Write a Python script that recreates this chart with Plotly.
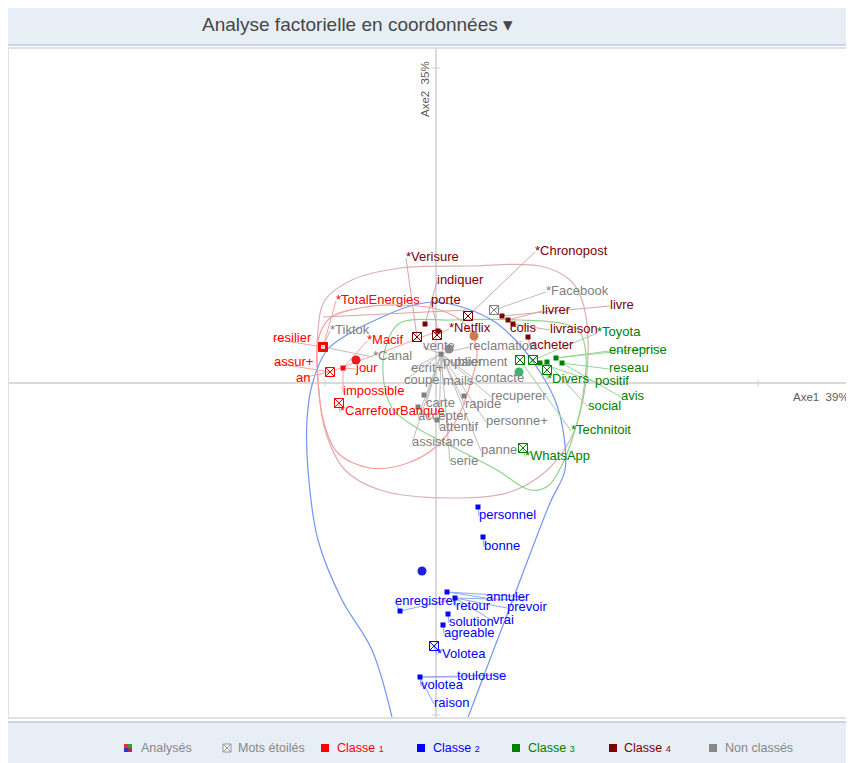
import plotly.graph_objects as go

# ------------------------------------------------------------------
# Data : coordinates on the factorial plane (Axe1, Axe2)
# ------------------------------------------------------------------
TITLE = "Analyse factorielle en coordonnées"
AXE1_LABEL = "Axe1  39%"
AXE2_LABEL = "Axe2  35%"

# ---- Classe 1 ----
C1_WORDS = ["resilier", "assur+", "an", "jour", "impossible", "*TotalEnergies", "*Macif", "*CarrefourBanque"]
C1_PT_X = [-1.13, -1.06, -1.06, -0.93, -0.93, -1.13, -0.93, -0.97]
C1_PT_Y = [0.36, 0.11, 0.11, 0.15, 0.15, 0.36, 0.15, -0.20]
C1_LBL_X = [-1.63, -1.62, -1.40, -0.80, -0.93, -1.00, -0.69, -0.96]
C1_LBL_Y = [0.44, 0.20, 0.04, 0.14, -0.09, 0.82, 0.42, -0.29]
C1_SQ_X, C1_SQ_Y = [-0.93], [0.15]
C1_FILLBOX_X, C1_FILLBOX_Y = [-1.13], [0.36]
C1_BOX_X, C1_BOX_Y = [-1.06, -0.97], [0.11, -0.20]
C1_CENTER_X, C1_CENTER_Y = [-0.80], [0.23]
C1_LINK_X, C1_LINK_Y = [-1.06, 0.02], [0.11, 0.52]
C1_HULL_X = [-1.18, -1.06, -0.76, -0.36, 0.04, 0.30, 0.41, 0.34, 0.22, 0.02, -0.28, -0.66, -0.98, -1.12, -1.18, -1.18]
C1_HULL_Y = [0.43, 0.65, 0.75, 0.78, 0.73, 0.58, 0.31, -0.02, -0.34, -0.62, -0.80, -0.85, -0.70, -0.40, 0.03, 0.43]

# ---- Classe 2 ----
C2_WORDS = ["personnel", "bonne", "annuler", "prevoir", "enregistrer", "retour", "solution", "vrai",
            "agreable", "*Volotea", "toulouse", "volotea", "raison"]
C2_PT_X = [0.42, 0.47, 0.11, 0.19, -0.36, 0.19, 0.12, 0.19, 0.07, -0.02, -0.16, -0.16, -0.16]
C2_PT_Y = [-1.24, -1.54, -2.09, -2.15, -2.28, -2.15, -2.31, -2.15, -2.42, -2.63, -2.94, -2.94, -2.94]
C2_LBL_X = [0.43, 0.48, 0.50, 0.71, -0.41, 0.20, 0.13, 0.57, 0.08, 0.01, 0.21, -0.15, -0.02]
C2_LBL_Y = [-1.33, -1.64, -2.15, -2.25, -2.19, -2.24, -2.40, -2.38, -2.51, -2.72, -2.94, -3.03, -3.21]
C2_SQ_X = [0.42, 0.47, 0.11, 0.19, -0.36, 0.12, 0.07, -0.16]
C2_SQ_Y = [-1.24, -1.54, -2.09, -2.15, -2.28, -2.31, -2.42, -2.94]
C2_BOX_X, C2_BOX_Y = [-0.02], [-2.63]
C2_CENTER_X, C2_CENTER_Y = [-0.14], [-1.88]
C2_LINK_X = [0.11, 0.91, None, 0.19, 0.91, None, -0.36, 0.14, None, -0.16, 0.67]
C2_LINK_Y = [-2.09, -2.14, None, -2.15, -2.17, None, -2.28, -2.17, None, -2.94, -2.92]
C2_HULL_X = [-0.41, -0.64, -0.94, -1.18, -1.28, -1.29, -1.24, -1.09, -0.86, -0.56, -0.26, 0.00, 0.29,
             0.59, 0.84, 1.04, 1.19, 1.27, 1.29, 1.14, 0.74, 0.31, 0.24]
C2_HULL_Y = [-3.47, -2.67, -2.17, -1.57, -0.87, -0.37, -0.02, 0.33, 0.50, 0.65, 0.77, 0.81, 0.75,
             0.61, 0.38, 0.11, -0.17, -0.47, -0.87, -1.20, -2.24, -3.37, -3.57]

# ---- Classe 3 ----
C3_WORDS = ["*Toyota", "entreprise", "reseau", "positif", "avis", "social", "*Divers", "*Technitoit", "*WhatsApp"]
C3_PT_X = [0.97, 1.20, 1.26, 1.04, 1.26, 1.11, 1.11, 0.84, 0.87]
C3_PT_Y = [0.23, 0.25, 0.20, 0.20, 0.20, 0.21, 0.13, 0.23, -0.65]
C3_LBL_X = [1.61, 1.73, 1.73, 1.59, 1.85, 1.52, 1.11, 1.35, 0.89]
C3_LBL_Y = [0.50, 0.32, 0.14, 0.01, -0.14, -0.24, 0.03, -0.48, -0.74]
C3_SQ_X, C3_SQ_Y = [1.04, 1.11, 1.20, 1.26], [0.20, 0.21, 0.25, 0.20]
C3_BOX_X, C3_BOX_Y = [0.84, 0.97, 1.11, 0.87], [0.23, 0.23, 0.13, -0.65]
C3_CENTER_X, C3_CENTER_Y = [0.83], [0.11]
C3_LINK_X, C3_LINK_Y = [1.20, 2.24], [0.25, 0.36]
C3_HULL_X = [-0.36, 0.14, 0.84, 1.29, 1.44, 1.50, 1.47, 1.39, 1.26, 1.12, 0.94, 0.61, 0.21, -0.19, -0.44, -0.53, -0.49, -0.36]
C3_HULL_Y = [0.60, 0.63, 0.63, 0.59, 0.51, 0.28, -0.12, -0.47, -0.82, -1.03, -1.07, -0.87, -0.66, -0.45, -0.25, 0.10, 0.40, 0.60]

# ---- Classe 4 ----
C4_WORDS = ["indiquer", "porte", "livre", "livrer", "colis", "livraison", "acheter", "*Verisure", "*Netflix", "*Chronopost"]
C4_PT_X = [-0.11, 0.02, 0.66, 0.72, 0.77, 0.77, 0.92, -0.19, 0.01, 0.32]
C4_PT_Y = [0.59, 0.52, 0.67, 0.63, 0.59, 0.59, 0.46, 0.46, 0.48, 0.67]
C4_LBL_X = [0.01, -0.05, 1.74, 1.06, 0.74, 1.14, 0.94, -0.30, 0.13, 0.99]
C4_LBL_Y = [1.02, 0.82, 0.77, 0.72, 0.54, 0.53, 0.37, 1.25, 0.54, 1.31]
C4_SQ_X, C4_SQ_Y = [-0.11, 0.02, 0.66, 0.72, 0.77, 0.92], [0.59, 0.52, 0.67, 0.63, 0.59, 0.46]
C4_BOX_X, C4_BOX_Y = [0.32, -0.19, 0.01], [0.67, 0.46, 0.48]
C4_CENTER_X, C4_CENTER_Y = [0.38], [0.47]
C4_LINK_X, C4_LINK_Y = [-1.13, 0.31], [0.66, 0.73]
C4_HULL_X = [-1.11, -0.84, -0.36, 0.34, 1.04, 1.34, 1.46, 1.52, 1.47, 1.34, 1.09, 0.74, 0.14, -0.56, -0.91, -1.11, -1.18, -1.18, -1.11]
C4_HULL_Y = [0.83, 1.03, 1.15, 1.17, 1.17, 1.03, 0.83, 0.43, -0.17, -0.57, -0.89, -1.09, -1.15, -1.07, -0.87, -0.47, 0.03, 0.53, 0.83]

# ---- Non classés ----
NC_WORDS = ["*Tiktok", "*Canal", "*Facebook", "vente", "reclamation", "publier", "paiement", "ecrit+", "coupe",
            "mails", "contacte", "recuperer", "carte", "rapide", "accepter", "personne+", "attentif",
            "assistance", "panne", "serie"]
NC_PT_X = [-1.13, -1.13, 0.58] + [0.05] * 17
NC_PT_Y = [0.36, 0.36, 0.73] + [0.29] * 17
NC_LBL_X = [-1.06, -0.63, 1.10, -0.13, 0.33, 0.07, 0.18, -0.25, -0.32, 0.07, 0.39, 0.55, -0.10, 0.29,
            -0.18, 0.50, 0.03, -0.24, 0.45, 0.14]
NC_LBL_Y = [0.52, 0.26, 0.91, 0.36, 0.36, 0.20, 0.20, 0.14, 0.02, 0.01, 0.04, -0.14, -0.21, -0.22,
            -0.34, -0.39, -0.45, -0.60, -0.68, -0.79]
NC_SQ_X, NC_SQ_Y = [0.05, -0.12, 0.28, -0.18, 0.01], [0.29, -0.12, -0.13, -0.24, -0.37]
NC_BOX_X, NC_BOX_Y = [0.58], [0.73]
NC_CENTER_X, NC_CENTER_Y = [0.13], [0.34]

# axis tick marks
XTICKS = [-1.11, 3.22]
YTICKS = [3.15, -1.15, -3.32]

# Legend
LEGEND_ITEMS = ["Analysés", "Mots étoilés", "Classe 1", "Classe 2", "Classe 3", "Classe 4", "Non classés"]

# ------------------------------------------------------------------
# Layout geometry (page pixels; the html body adds an 8 px margin)
# ------------------------------------------------------------------
BODY = 8
W, H = 846, 755
ML, MR, MT, MB = 0, 2, 40, 45
X_RANGE = [-4.28, 4.16]
Y_RANGE = [-3.35, 3.35]
FONT = "Liberation Sans, Arial, sans-serif"


def px2paper(px, py):
    """page pixel -> paper coordinates"""
    fx, fy = px - BODY, py - BODY
    return (fx - ML) / (W - ML - MR), (H - MB - fy) / (H - MT - MB)


CLASSES = [
    dict(words=C4_WORDS, ptx=C4_PT_X, pty=C4_PT_Y, lx=C4_LBL_X, ly=C4_LBL_Y, sqx=C4_SQ_X, sqy=C4_SQ_Y,
         bx=C4_BOX_X, by=C4_BOX_Y, cx=C4_CENTER_X, cy=C4_CENTER_Y, hx=C4_HULL_X, hy=C4_HULL_Y,
         kx=C4_LINK_X, ky=C4_LINK_Y, col="#800000", light="#d3a6a6", ccol="#cf7a4c", hcol="#dcb0b0"),
    dict(words=C1_WORDS, ptx=C1_PT_X, pty=C1_PT_Y, lx=C1_LBL_X, ly=C1_LBL_Y, sqx=C1_SQ_X, sqy=C1_SQ_Y,
         bx=C1_BOX_X, by=C1_BOX_Y, cx=C1_CENTER_X, cy=C1_CENTER_Y, hx=C1_HULL_X, hy=C1_HULL_Y,
         kx=C1_LINK_X, ky=C1_LINK_Y, col="#ff0000", light="#ffa0a0", ccol="#e81c1c", hcol="#ff9c9c"),
    dict(words=C3_WORDS, ptx=C3_PT_X, pty=C3_PT_Y, lx=C3_LBL_X, ly=C3_LBL_Y, sqx=C3_SQ_X, sqy=C3_SQ_Y,
         bx=C3_BOX_X, by=C3_BOX_Y, cx=C3_CENTER_X, cy=C3_CENTER_Y, hx=C3_HULL_X, hy=C3_HULL_Y,
         kx=C3_LINK_X, ky=C3_LINK_Y, col="#008000", light="#98d498", ccol="#3cb371", hcol="#8fd48f"),
    dict(words=C2_WORDS, ptx=C2_PT_X, pty=C2_PT_Y, lx=C2_LBL_X, ly=C2_LBL_Y, sqx=C2_SQ_X, sqy=C2_SQ_Y,
         bx=C2_BOX_X, by=C2_BOX_Y, cx=C2_CENTER_X, cy=C2_CENTER_Y, hx=C2_HULL_X, hy=C2_HULL_Y,
         kx=C2_LINK_X, ky=C2_LINK_Y, col="#0000ff", light="#8fa6f5", ccol="#1e1ee6", hcol="#7394f2"),
    dict(words=NC_WORDS, ptx=NC_PT_X, pty=NC_PT_Y, lx=NC_LBL_X, ly=NC_LBL_Y, sqx=NC_SQ_X, sqy=NC_SQ_Y,
         bx=NC_BOX_X, by=NC_BOX_Y, cx=NC_CENTER_X, cy=NC_CENTER_Y, hx=None, hy=None,
         kx=None, ky=None, col="#808080", light="#bdbdbd", ccol="#8c8c8c", hcol=None),
]

fig = go.Figure()

# contours
for c in CLASSES:
    if c["hx"] is not None:
        fig.add_trace(go.Scatter(x=c["hx"], y=c["hy"], mode="lines",
                                 line=dict(color=c["hcol"], width=1.2, shape="spline", smoothing=1.0),
                                 hoverinfo="skip"))

# connection lines
for c in CLASSES:
    xs, ys = [], []
    for px_, py_, lx_, ly_ in zip(c["ptx"], c["pty"], c["lx"], c["ly"]):
        xs += [px_, lx_, None]
        ys += [py_, ly_, None]
    if c["kx"] is not None:
        xs += c["kx"] + [None]
        ys += c["ky"] + [None]
    fig.add_trace(go.Scatter(x=xs, y=ys, mode="lines", line=dict(color=c["light"], width=1),
                             hoverinfo="skip"))

# markers
for c in CLASSES:
    fig.add_trace(go.Scatter(x=c["sqx"], y=c["sqy"], mode="markers",
                             marker=dict(symbol="square", size=5, color=c["col"], line=dict(width=0))))
    fig.add_trace(go.Scatter(x=c["bx"], y=c["by"], mode="markers",
                             marker=dict(symbol="square-x-open", size=9, color=c["col"],
                                         line=dict(width=1, color=c["col"]))))
    fig.add_trace(go.Scatter(x=c["cx"], y=c["cy"], mode="markers",
                             marker=dict(symbol="circle", size=9, color=c["ccol"], line=dict(width=0))))

# filled star-box of class 1 ("resilier")
fig.add_trace(go.Scatter(x=C1_FILLBOX_X, y=C1_FILLBOX_Y, mode="markers",
                         marker=dict(symbol="square", size=9, color="#ff0000",
                                     line=dict(width=1, color="#ff0000"))))
fig.add_trace(go.Scatter(x=C1_FILLBOX_X, y=C1_FILLBOX_Y, mode="markers",
                         marker=dict(symbol="square", size=4, color="#ffd0d0", line=dict(width=0))))

# labels
for c in CLASSES:
    fig.add_trace(go.Scatter(x=c["lx"], y=c["ly"], mode="text", text=c["words"],
                             textposition="middle right",
                             textfont=dict(family=FONT, size=13, color=c["col"]),
                             hoverinfo="skip"))

shapes = []
# axis tick marks
for t in XTICKS:
    shapes.append(dict(type="line", xref="x", yref="y", x0=t, x1=t, y0=-0.035, y1=0.035,
                       line=dict(color="#cfcfcf", width=1)))
for t in YTICKS:
    shapes.append(dict(type="line", xref="x", yref="y", x0=-0.04, x1=0.04, y0=t, y1=t,
                       line=dict(color="#cfcfcf", width=1)))

# header band
x0, y0 = px2paper(8, 8)
x1, y1 = px2paper(854, 45)
shapes.append(dict(type="rect", xref="paper", yref="paper", x0=x0, x1=x1, y0=y1, y1=y0,
                   fillcolor="#e7eef6", line=dict(width=0), layer="above"))
shapes.append(dict(type="line", xref="paper", yref="paper", x0=x0, x1=x1, y0=y1, y1=y1,
                   line=dict(color="#cbd3f4", width=2)))
# footer band
x0, y0 = px2paper(8, 722)
x1, y1 = px2paper(854, 763)
shapes.append(dict(type="rect", xref="paper", yref="paper", x0=x0, x1=x1, y0=y1, y1=y0,
                   fillcolor="#e7eef6", line=dict(width=0), layer="above"))
shapes.append(dict(type="line", xref="paper", yref="paper", x0=x0, x1=x1, y0=y0, y1=y0,
                   line=dict(color="#cbd3f4", width=2)))
# plot frame
shapes.append(dict(type="rect", xref="paper", yref="paper", x0=0, x1=1, y0=0, y1=1,
                   line=dict(color="#e0e0e0", width=2), layer="above"))

annotations = []
# title
tx, ty = px2paper(357, 25)
annotations.append(dict(xref="paper", yref="paper", x=tx, y=ty, text=TITLE + " ▾", showarrow=False,
                        xanchor="center", yanchor="middle",
                        font=dict(family=FONT, size=19, color="#464646")))
# axis titles
annotations.append(dict(xref="x", yref="y", x=4.15, y=-0.14, text=AXE1_LABEL, showarrow=False,
                        xanchor="right", yanchor="middle",
                        font=dict(family=FONT, size=11.5, color="#5a5a5a")))
annotations.append(dict(xref="x", yref="y", x=-0.11, y=2.94, text=AXE2_LABEL, showarrow=False,
                        textangle=-90, xanchor="center", yanchor="middle",
                        font=dict(family=FONT, size=11.5, color="#5a5a5a")))

# legend in footer
LEG_ICON_PX = [128, 227, 325, 421, 516, 613, 713]
LEG_TEXT_PX = [139, 236, 335, 431, 526, 622, 723]
LEG_COLORS = ["#888888", "#888888", "#ff0000", "#0000ff", "#008000", "#800000", "#888888"]
LEG_Y = 748
for i, (name, ipx, tpx, col) in enumerate(zip(LEGEND_ITEMS, LEG_ICON_PX, LEG_TEXT_PX, LEG_COLORS)):
    if name.startswith("Classe"):
        word, num = name.split(" ")
        txt = f"{word} <span style='font-size:9px'>{num}</span>"
    else:
        txt = name
    ax_, ay_ = px2paper(tpx, LEG_Y)
    annotations.append(dict(xref="paper", yref="paper", x=ax_, y=ay_, text=txt, showarrow=False,
                            xanchor="left", yanchor="middle", font=dict(family=FONT, size=12.5, color=col)))
    if i == 0:
        quad = ["#e03030", "#30a030", "#3030e0", "#a03060"]
        for k, qc in enumerate(quad):
            qx = ipx - 4 + (k % 2) * 4
            qy = LEG_Y - 4 + (k // 2) * 4
            a0, b0 = px2paper(qx, qy)
            a1, b1 = px2paper(qx + 4, qy + 4)
            shapes.append(dict(type="rect", xref="paper", yref="paper", x0=a0, x1=a1, y0=b1, y1=b0,
                               fillcolor=qc, line=dict(width=0), layer="above"))
    elif i == 1:
        a0, b0 = px2paper(ipx - 4, LEG_Y - 4)
        a1, b1 = px2paper(ipx + 4, LEG_Y + 4)
        shapes.append(dict(type="rect", xref="paper", yref="paper", x0=a0, x1=a1, y0=b1, y1=b0,
                           fillcolor="#f4f4f4", line=dict(color="#999999", width=1), layer="above"))
        shapes.append(dict(type="line", xref="paper", yref="paper", x0=a0, x1=a1, y0=b1, y1=b0,
                           line=dict(color="#999999", width=1), layer="above"))
        shapes.append(dict(type="line", xref="paper", yref="paper", x0=a0, x1=a1, y0=b0, y1=b1,
                           line=dict(color="#999999", width=1), layer="above"))
    else:
        a0, b0 = px2paper(ipx - 4, LEG_Y - 4)
        a1, b1 = px2paper(ipx + 4, LEG_Y + 4)
        shapes.append(dict(type="rect", xref="paper", yref="paper", x0=a0, x1=a1, y0=b1, y1=b0,
                           fillcolor=col, line=dict(width=0), layer="above"))

fig.update_layout(
    width=W, height=H,
    margin=dict(l=ML, r=MR, t=MT, b=MB, pad=0),
    paper_bgcolor="white", plot_bgcolor="white",
    showlegend=False,
    xaxis=dict(range=X_RANGE, showgrid=False, showticklabels=False, ticks="",
               zeroline=True, zerolinecolor="#dadada", zerolinewidth=1.5, fixedrange=True),
    yaxis=dict(range=Y_RANGE, showgrid=False, showticklabels=False, ticks="",
               zeroline=True, zerolinecolor="#dadada", zerolinewidth=1.5, fixedrange=True),
    shapes=shapes,
    annotations=annotations,
    font=dict(family=FONT),
)

fig.write_html("out.html")
